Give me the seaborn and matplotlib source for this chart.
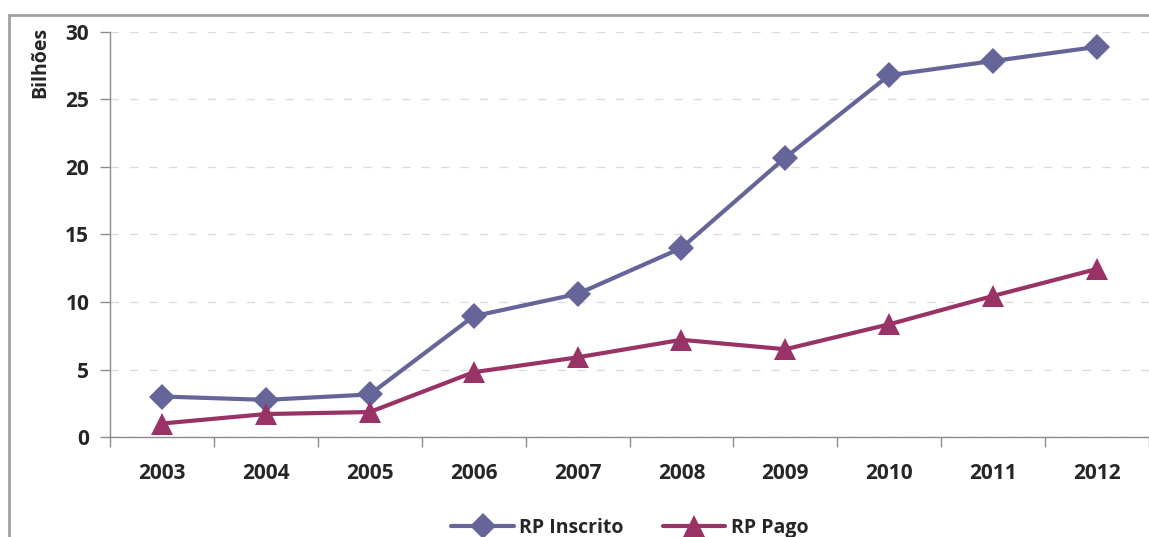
import numpy as np
import pandas as pd
import matplotlib
matplotlib.use("Agg")
import matplotlib.pyplot as plt
import seaborn as sns
from matplotlib.patches import Rectangle
from matplotlib.lines import Line2D

# values (in billions)
years = ["2003", "2004", "2005", "2006", "2007", "2008", "2009", "2010", "2011", "2012"]
rp_inscrito = [3.0, 2.75, 3.15, 8.95, 10.6, 14.0, 20.7, 26.8, 27.85, 28.9]
rp_pago = [1.0, 1.7, 1.85, 4.8, 5.9, 7.2, 6.5, 8.35, 10.45, 12.45]

color_inscrito = "#656599"
color_pago = "#993366"

sns.set_theme(style="white")
plt.rcParams["font.family"] = ["Open Sans", "DejaVu Sans"]
plt.rcParams["font.weight"] = "bold"

df = pd.DataFrame({
    "pos": np.arange(len(years)),
    "RP Inscrito": rp_inscrito,
    "RP Pago": rp_pago,
})

fig = plt.figure(figsize=(11.49, 5.37), dpi=100)
ax = fig.add_axes([110 / 1149, 1 - 437 / 537, 1 - 110 / 1149, (437 - 32) / 537])

# outer chart frame
fig.patches.append(Rectangle((9 / 1149, -0.1), 1.2, 1 - 15 / 537 + 0.1,
                             transform=fig.transFigure, fill=False,
                             edgecolor="#a0a0a0", linewidth=2, zorder=0))

sns.lineplot(data=df, x="pos", y="RP Inscrito", ax=ax, color=color_inscrito,
             linewidth=3, marker="D", markersize=13, markeredgewidth=0)
sns.lineplot(data=df, x="pos", y="RP Pago", ax=ax, color=color_pago,
             linewidth=3, marker="^", markersize=16, markeredgewidth=0)

ax.set_xlim(-0.5, len(years) - 0.5)
ax.set_ylim(0, 30)
ax.set_yticks(range(0, 31, 5))
ax.set_xticks(df["pos"])
ax.set_xticklabels(years, fontsize=15, fontweight="bold")
ax.set_xticks(np.arange(-0.5, len(years), 1.0), minor=True)
ax.tick_params(axis="x", which="major", length=0, pad=19)
ax.tick_params(axis="x", which="minor", length=7, width=1, color="#8c8c8c", direction="out", bottom=True)
ax.tick_params(axis="y", length=7, width=1, color="#8c8c8c", direction="out", left=True,
               labelsize=15, pad=8)
for lbl in ax.get_yticklabels():
    lbl.set_fontweight("bold")

ax.yaxis.grid(True, linestyle=(0, (6, 8)), color="#dcdcdc", linewidth=1)
ax.set_axisbelow(True)
for side in ["top", "right"]:
    ax.spines[side].set_visible(False)
for side in ["left", "bottom"]:
    ax.spines[side].set_color("#8c8c8c")
    ax.spines[side].set_linewidth(1)

ax.set_xlabel("")
ax.set_ylabel("Bilhões", fontsize=14, fontweight="bold")
ax.yaxis.set_label_coords(-60 / 1039, 0.925)

handles = [
    Line2D([], [], color=color_inscrito, linewidth=3, marker="D", markersize=13, markeredgewidth=0),
    Line2D([], [], color=color_pago, linewidth=3, marker="^", markersize=16, markeredgewidth=0),
]
fig.legend(handles, ["RP Inscrito", "RP Pago"], loc="center", bbox_to_anchor=(630 / 1149, 1 - 528 / 537),
           ncol=2, frameon=False, handlelength=3.2, columnspacing=2.0, handletextpad=0.3,
           prop={"weight": "bold", "size": 14})

fig.savefig("out.png", dpi=100)
